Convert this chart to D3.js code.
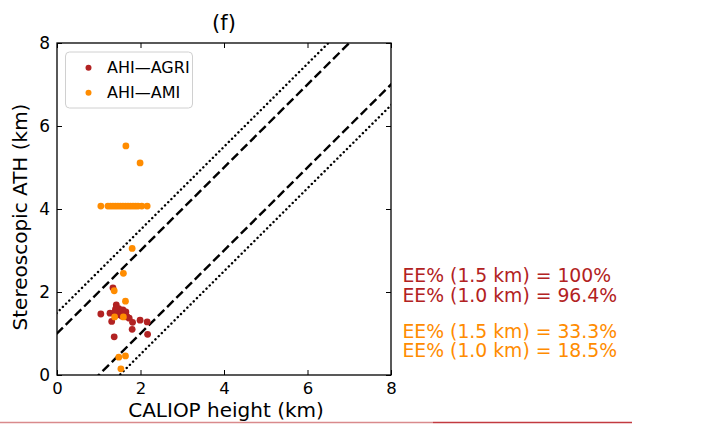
<!DOCTYPE html>
<html><head><meta charset="utf-8">
<script src="https://cdn.jsdelivr.net/npm/d3@7"></script>
<style>body{margin:0;background:#fff}svg{display:block}svg text{font-family:'DejaVu Sans',sans-serif}</style>
</head><body>
<svg id="c" width="716" height="424"></svg>
<script>
const xTicks = [0, 2, 4, 6, 8];
const yTicks = [0, 2, 4, 6, 8];
const seriesNames = ["AHI\u2014AGRI", "AHI\u2014AMI"];
const seriesColors = ["#b22222", "#ff8c00"];
const agriX = [1.34,1.42,1.05,1.27,1.40,1.45,1.50,1.55,1.60,1.63,1.45,1.52,1.58,1.48,1.68,1.73,1.31,1.81,1.99,2.16,1.80,2.17,1.37,1.42,1.55,1.65,1.38,1.60];
const agriY = [2.10,1.69,1.47,1.49,1.58,1.53,1.55,1.50,1.53,1.47,1.45,1.48,1.57,1.60,1.40,1.37,1.29,1.27,1.32,1.28,1.10,0.98,0.92,1.62,1.42,1.52,1.50,1.45];
const amiX = [1.65,1.99,1.05,1.22,1.28,1.34,1.40,1.46,1.52,1.58,1.64,1.70,1.76,1.82,1.88,1.94,2.03,2.16,1.80,1.59,1.37,1.64,1.38,1.59,1.48,1.64,1.53];
const amiY = [5.52,5.11,4.07,4.07,4.07,4.07,4.07,4.07,4.07,4.07,4.07,4.07,4.07,4.07,4.07,4.07,4.07,4.07,3.05,2.45,2.03,1.78,1.40,1.40,0.43,0.46,0.15];
const offsets = [1.0, -1.0, 1.5, -1.5];
const eeLabels = ["EE% (1.5 km) = 100%", "EE% (1.0 km) = 96.4%", "EE% (1.5 km) = 33.3%", "EE% (1.0 km) = 18.5%"];
const eeSeries = [0, 0, 1, 1];

const svg = d3.select("#c");
const x = d3.scaleLinear().domain([0, 8]).range([57, 391]);
const y = d3.scaleLinear().domain([0, 8]).range([375, 43]);

// faint artifact line at bottom
svg.append("line").attr("x1", 0).attr("x2", 433).attr("y1", 422.5).attr("y2", 422.5).attr("stroke", "#d98a8c").attr("stroke-width", 1.5);
svg.append("line").attr("x1", 433).attr("x2", 632).attr("y1", 422.5).attr("y2", 422.5).attr("stroke", "#c23a40").attr("stroke-width", 1.5);

svg.append("clipPath").attr("id", "pc").append("rect")
  .attr("x", x(0)).attr("y", y(8)).attr("width", x(8) - x(0)).attr("height", y(0) - y(8));
const plot = svg.append("g").attr("clip-path", "url(#pc)");

// reference lines
offsets.forEach((o) => {
  plot.append("line")
    .attr("x1", x(-2)).attr("y1", y(-2 + o))
    .attr("x2", x(10)).attr("y2", y(10 + o))
    .attr("stroke", "#000").attr("stroke-width", 2.4)
    .attr("stroke-linecap", Math.abs(o) === 1 ? "butt" : "round")
    .attr("stroke-dasharray", Math.abs(o) === 1 ? "9,4" : "0.1,4.4");
});

// points
const pts = [[agriX, agriY], [amiX, amiY]];
pts.forEach(([xs, ys], i) => {
  plot.selectAll(null).data(xs.map((v, k) => [v, ys[k]])).enter().append("circle")
    .attr("cx", d => x(d[0])).attr("cy", d => y(d[1])).attr("r", 3.4)
    .attr("fill", seriesColors[i]);
});

// axes with inward ticks on all sides
const tl = 5;
svg.append("g").attr("transform", `translate(0,${y(0)})`)
  .call(d3.axisBottom(x).tickValues(xTicks).tickSizeInner(-tl).tickSizeOuter(0).tickPadding(7))
  .call(g => { g.select(".domain").remove(); g.selectAll("text").attr("font-size", 16.5).attr("fill", "#000"); });
svg.append("g").attr("transform", `translate(0,${y(8)})`)
  .call(d3.axisTop(x).tickValues(xTicks).tickSizeInner(-tl).tickSizeOuter(0).tickFormat(""))
  .call(g => g.select(".domain").remove());
svg.append("g").attr("transform", `translate(${x(0)},0)`)
  .call(d3.axisLeft(y).tickValues(yTicks).tickSizeInner(-tl).tickSizeOuter(0).tickPadding(7))
  .call(g => { g.select(".domain").remove(); g.selectAll("text").attr("font-size", 17).attr("fill", "#000"); });
svg.append("g").attr("transform", `translate(${x(8)},0)`)
  .call(d3.axisRight(y).tickValues(yTicks).tickSizeInner(-tl).tickSizeOuter(0).tickFormat(""))
  .call(g => g.select(".domain").remove());
svg.selectAll(".tick line").attr("stroke", "#000").attr("stroke-width", 1);
svg.selectAll(".tick text").style("font-family", "'DejaVu Sans', sans-serif");

svg.append("rect").attr("x", x(0)).attr("y", y(8)).attr("width", x(8) - x(0)).attr("height", y(0) - y(8))
  .attr("fill", "none").attr("stroke", "#000").attr("stroke-width", 1.3);

// legend
const lg = svg.append("g");
lg.append("rect").attr("x", 65.5).attr("y", 52).attr("width", 127).attr("height", 56).attr("rx", 4)
  .attr("fill", "#fff").attr("fill-opacity", 0.8).attr("stroke", "#d0d0d0").attr("stroke-width", 1);
seriesNames.forEach((n, i) => {
  const cy = 67.7 + i * 25;
  lg.append("circle").attr("cx", 88.5).attr("cy", cy).attr("r", 3).attr("fill", seriesColors[i]);
  lg.append("text").attr("x", 107).attr("y", cy + 5.5).attr("font-size", 16).text(n);
});

// EE labels
const eeY = [282.3, 302.3, 337.5, 357];
eeLabels.forEach((t, i) => {
  svg.append("text").attr("x", 402.5).attr("y", eeY[i]).attr("font-size", 18.8)
    .attr("fill", seriesColors[eeSeries[i]]).text(t);
});

// titles
svg.append("text").attr("x", 224).attr("y", 30).attr("text-anchor", "middle").attr("font-size", 21).text("(f)");
svg.append("text").attr("x", (x(0) + x(8)) / 2 + 2).attr("y", 417).attr("text-anchor", "middle").attr("font-size", 20).text("CALIOP height (km)");
svg.append("text").attr("transform", `translate(27,${(y(0) + y(8)) / 2 + 8}) rotate(-90)`).attr("text-anchor", "middle").attr("font-size", 20).text("Stereoscopic ATH (km)");
</script>
</body></html>
